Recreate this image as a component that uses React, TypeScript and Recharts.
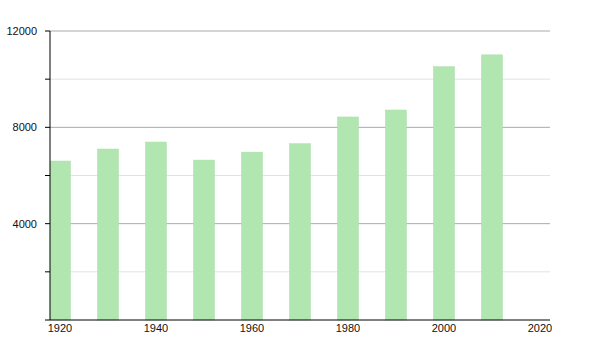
import React from 'react';
import { BarChart, Bar, XAxis, YAxis, CartesianGrid } from 'recharts';

// population by census decade
const years = [1920, 1930, 1940, 1950, 1960, 1970, 1980, 1990, 2000, 2010];
const population = [6600, 7100, 7390, 6640, 6970, 7320, 8430, 8720, 10520, 11010];
const xTicks = [1920, 1940, 1960, 1980, 2000, 2020];
const yTicks = [0, 2000, 4000, 6000, 8000, 10000, 12000];
const majorLines = [4000, 8000, 12000];
const minorLines = [2000, 6000, 10000];

const data = years.map((year, i) => ({ year, value: population[i] }));

const FONT = '"Liberation Sans", Arial, sans-serif';

// bars sit to the right of their year, not centred on it
const ShiftedBar = (props: any) => {
  const { x, y, width, height } = props;
  if (!height || height <= 0) return null;
  return <rect x={x + width / 2} y={y} width={width} height={height} fill="#b2e6b0" stroke="#a9dea8" strokeWidth={0.5} />;
};

const XTick = (props: any) => {
  const { x, y, payload } = props;
  return (
    <text x={x + 10} y={y - 4} textAnchor="middle" dominantBaseline="hanging" fontSize={11} fontFamily={FONT} fill="#111">
      {payload.value}
    </text>
  );
};

const YTick = (props: any) => {
  const { x, y, payload } = props;
  const v = payload.value;
  if (v === 0 || v % 4000 !== 0) return null;
  return (
    <text x={x} y={y} textAnchor="end" dominantBaseline="central" fontSize={11} fontFamily={FONT} fill="#111">
      {v}
    </text>
  );
};

export default function App() {
  return (
    <div style={{ position: 'absolute', left: 0, top: 0, width: 600, height: 350, background: '#fff' }}>
      <BarChart width={600} height={350} data={data} margin={{ top: 31, right: 50, bottom: 0, left: 0 }}>
        <CartesianGrid vertical={false} stroke="#e2e2e2" horizontalValues={minorLines} />
        <CartesianGrid vertical={false} stroke="#aaaaaa" horizontalValues={majorLines} />
        <XAxis
          dataKey="year"
          type="number"
          domain={[1920, 2024.17]}
          ticks={xTicks}
          allowDataOverflow
          tickLine={false}
          axisLine={{ stroke: '#000', strokeWidth: 1 }}
          tick={<XTick />}
          height={30}
        />
        <YAxis
          type="number"
          domain={[0, 12000]}
          ticks={yTicks}
          width={50}
          tickSize={5}
          tickMargin={8}
          tickLine={{ stroke: '#000' }}
          axisLine={{ stroke: '#000', strokeWidth: 1 }}
          tick={<YTick />}
        />
        <Bar dataKey="value" barSize={21} shape={<ShiftedBar />} isAnimationActive={false} />
      </BarChart>
    </div>
  );
}
